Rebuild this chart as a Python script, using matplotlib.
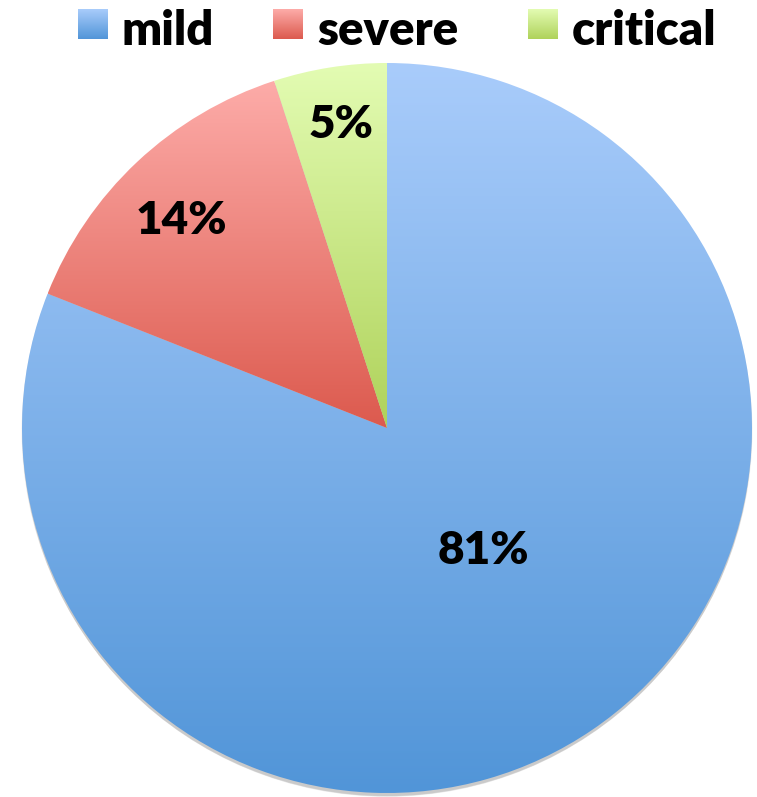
import numpy as np
import matplotlib.pyplot as plt
from matplotlib.colors import LinearSegmentedColormap
from matplotlib.patches import Circle

labels = ["mild", "severe", "critical"]
shares = [81, 14, 5]
top_colors = ["#a9ccfb", "#fdaca9", "#e3fcb3"]
bottom_colors = ["#5195d8", "#dc5a4e", "#afd25a"]
label_radius = [0.427, 0.80, 0.84]
label_turn = [3.8, 1.5, -0.4]   # degrees, nudges label off the slice middle

W, H = 757, 797
fig = plt.figure(figsize=(W / 100, H / 100), dpi=100)
ax = fig.add_axes([0, 0, 1, 1])

cx, cy, r = 387, H - 428, 365

# soft shadow below the pie
for k in range(5):
    ax.add_patch(Circle((cx, cy - 2.5 - k * 0.5), r + 0.5 - k * 0.3,
                        color="#000000", alpha=0.045, lw=0, zorder=0))

wedges, _ = ax.pie(shares, startangle=90, counterclock=False, radius=r,
                   center=(cx, cy), wedgeprops=dict(lw=0))

grad = np.linspace(0, 1, 256).reshape(-1, 1)
for w, c0, c1, frac, turn, s in zip(wedges, top_colors, bottom_colors,
                                    label_radius, label_turn, shares):
    w.set_facecolor("none")
    verts = w.get_patch_transform().transform(w.get_path().vertices)
    y0, y1 = verts[:, 1].min(), verts[:, 1].max()
    x0, x1 = verts[:, 0].min(), verts[:, 0].max()
    cmap = LinearSegmentedColormap.from_list("g", [c1, c0])
    im = ax.imshow(grad, cmap=cmap, extent=[x0, x1, y0, y1], origin="lower",
                   aspect="auto", zorder=1, interpolation="bicubic")
    im.set_clip_path(w)
    mid = np.radians((w.theta1 + w.theta2) / 2 + turn)
    ax.text(cx + frac * r * np.cos(mid), cy + frac * r * np.sin(mid), f"{s}%",
            ha="center", va="center", fontsize=33, fontweight="heavy",
            family="Lato", color="black", zorder=3)

ax.set_xlim(0, W)
ax.set_ylim(0, H)
ax.set_aspect("equal")
ax.axis("off")

# legend with gradient squares
sq_x = [78, 273, 528]
for lx, lab, c0, c1 in zip(sq_x, labels, top_colors, bottom_colors):
    sax = fig.add_axes([lx / W, 1 - 39 / H, 30 / W, 30 / H])
    sax.imshow(grad, cmap=LinearSegmentedColormap.from_list("g", [c1, c0]),
               origin="lower", aspect="auto")
    sax.axis("off")
    fig.text((lx + 44) / W, 1 - 45 / H, lab, ha="left", va="baseline",
             fontsize=34, fontweight="heavy", family="Lato", color="black")

fig.savefig("out.png", dpi=100)
